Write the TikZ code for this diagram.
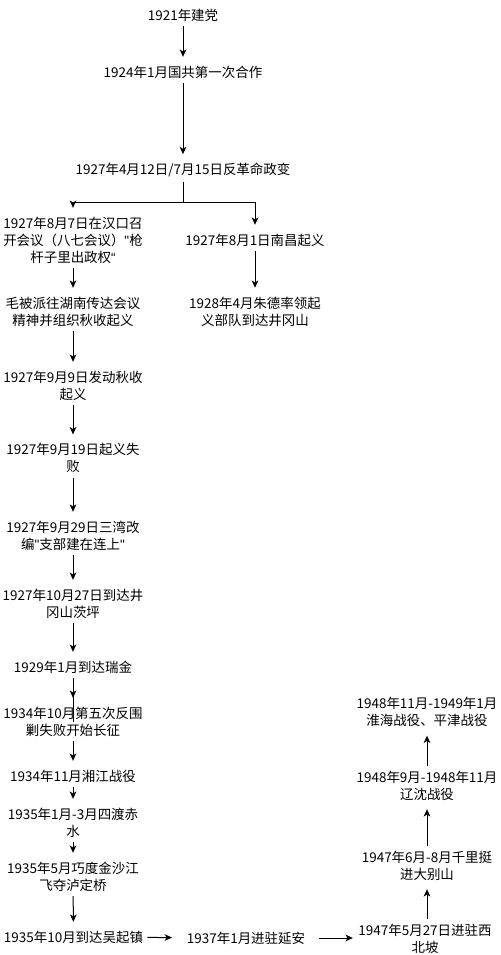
\documentclass[tikz,border=0pt]{standalone}
\usepackage{fontspec}
\setmainfont{Noto Sans CJK SC}[Ligatures=TeXOff]
\newfontfamily\latin{Liberation Sans}[Ligatures=TeXOff]
\usetikzlibrary{arrows.meta}
\begin{document}
\begin{tikzpicture}[x=0.75pt,y=-0.75pt,
  ev/.style={inner xsep=1pt, inner ysep=3.5pt, align=center, font=\fontsize{10.1}{12.75}\selectfont},
  arr/.style={-{Stealth[length=5.5pt,width=5pt,inset=1.5pt]}, line width=0.75pt, shorten >=3pt},
  ln/.style={line width=0.75pt}]
\useasboundingbox (0,0) rectangle (500,955);
\fill[white] (0,0) rectangle (500,955);
\node[ev] (n1) at (183,15) {1921年建党};
\node[ev] (n2) at (183,72) {1924年1月国共第一次合作};
\node[ev] (n3) at (183,170) {1927年4月12日/7月15日反革命政变};
\node[ev] (n4) at (73,240) {1927年8月7日在汉口召\\开会议（八七会议）{\latin "}枪\\杆子里出政权{\latin “}};
\node[ev] (n5) at (255,240) {1927年8月1日南昌起义};
\node[ev] (n6) at (73,311.5) {毛被派往湖南传达会议\\精神并组织秋收起义};
\node[ev] (n7) at (255,311.5) {1928年4月朱德率领起\\义部队到达井冈山};
\node[ev] (n8) at (73,385.5) {1927年9月9日发动秋收\\起义};
\node[ev] (n9) at (73,458) {1927年9月19日起义失\\败};
\node[ev] (n10) at (73,535.5) {1927年9月29日三湾改\\编{\latin "}支部建在连上{\latin "}};
\node[ev] (n11) at (73,603.5) {1927年10月27日到达井\\冈山茨坪};
\node[ev] (n12) at (73,667) {1929年1月到达瑞金};
\node[ev] (n13) at (73,721.5) {1934年10月第五次反围\\剿失败开始长征};
\node[ev] (n14) at (73,776) {1934年11月湘江战役};
\node[ev] (n15) at (73,822.5) {1935年1月-3月四渡赤\\水};
\node[ev] (n16) at (73,876.5) {1935年5月巧度金沙江\\飞夺泸定桥};
\node[ev] (n17) at (73.5,937) {1935年10月到达吴起镇};
\node[ev] (n18) at (246,938) {1937年1月进驻延安};
\node[ev] (n19) at (425,938.5) {1947年5月27日进驻西\\北坡};
\node[ev] (n20) at (427,865.5) {1947年6月-8月千里挺\\进大别山};
\node[ev] (n21) at (427,785.5) {1948年9月-1948年11月\\辽沈战役};
\node[ev] (n22) at (427,712) {1948年11月-1949年1月\\淮海战役、平津战役};
\coordinate (sp) at (183,203);
\draw[arr] (n1) -- (n2);
\draw[arr] (n2) -- (n3);
\draw[ln] (n3) -- (sp);
\draw[arr] (sp) -| (n4);
\draw[arr] (sp) -| (n5);
\draw[arr] (n4) -- (n6);
\draw[arr] (n5) -- (n7);
\draw[arr] (n6) -- (n8);
\draw[arr] (n8) -- (n9);
\draw[arr] (n9) -- (n10);
\draw[arr] (n10) -- (n11);
\draw[arr] (n11) -- (n12);
\draw[ln] (n12) -- (n13.center);
\draw[arr] (n12) -- (n13);
\draw[arr] (n13) -- (n14);
\draw[arr] (n14) -- (n15);
\draw[arr] (n15) -- (n16);
\draw[arr] (n16) -- (n17);
\draw[arr, shorten <=2pt, shorten >=10pt] (n17) -- (n18);
\draw[arr, shorten <=9pt] (n18) -- (n18 -| n19.west);
\draw[arr] (n20 |- n19.north) -- (n20);
\draw[arr] (n20) -- (n21);
\draw[arr] (n21) -- (n22);
\end{tikzpicture}
\end{document}
